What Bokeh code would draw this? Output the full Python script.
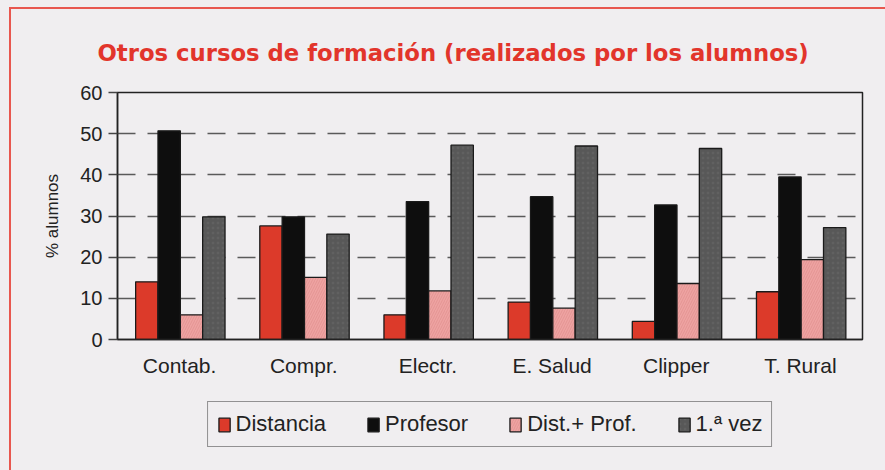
from bokeh.plotting import figure
from bokeh.layouts import column
from bokeh.models import ColumnDataSource, FactorRange, Legend, LegendItem, FixedTicker, InlineStyleSheet
from bokeh.transform import dodge
from bokeh.embed import file_html
from bokeh.resources import INLINE

categories = ["Contab.", "Compr.", "Electr.", "E. Salud", "Clipper", "T. Rural"]
distancia = [14, 27.6, 6, 9.1, 4.4, 11.6]
profesor = [50.7, 29.8, 33.5, 34.7, 32.7, 39.5]
dist_prof = [6, 15.1, 11.8, 7.6, 13.6, 19.4]
primera_vez = [29.8, 25.6, 47.2, 47, 46.4, 27.2]
series_names = ["Distancia", "Profesor", "Dist.+ Prof.", "1.ª vez"]
y_ticks = [0, 10, 20, 30, 40, 50, 60]

BG = "#f0eef0"
src = ColumnDataSource(dict(cat=categories, d=distancia, p=profesor, dp=dist_prof, v=primera_vez))

p = figure(x_range=FactorRange(*categories), y_range=(0, 60), width=885, height=390,
           output_backend="svg", toolbar_location=None,
           min_border_left=117, min_border_right=23, min_border_top=92, min_border_bottom=51)
p.background_fill_color = BG
p.border_fill_color = BG
p.outline_line_color = "#222222"
p.outline_line_width = 1.5
p.x_range.range_padding = 0

p.title.text = "Otros cursos de formación (realizados por los alumnos)"
p.title.text_font = "DejaVu Sans"
p.title.text_font_size = "22.75px"
p.title.text_font_style = "bold"
p.title.text_color = "#e2352b"
p.title.align = "left"
p.title.offset = -20
p.title.standoff = 53

w = 0.18
sh = 0.006
specs = [("d", -0.27 + sh, "#dc3a2a", None, None),
         ("p", -0.09 + sh, "#0e0e0e", None, None),
         ("dp", 0.09 + sh, "#eea3a2", "right_diagonal_line", "#d98584"),
         ("v", 0.27 + sh, "#585858", "dot", "#6a6a6a")]


def bars(fig):
    out = []
    for col, off, color, hatch, hcol in specs:
        kw = {}
        if hatch:
            kw = dict(hatch_pattern=hatch, hatch_color=hcol, hatch_alpha=0.5, hatch_scale=5, hatch_weight=1)
        out.append(fig.vbar(x=dodge("cat", off, range=fig.x_range), top=col, width=w, source=src,
                            fill_color=color, line_color="#1a1a1a", line_width=1.3, **kw))
    return out


bars(p)

p.yaxis.ticker = FixedTicker(ticks=y_ticks)
p.yaxis.axis_label = "% alumnos"
p.yaxis.axis_label_text_font = "Liberation Sans"
p.yaxis.axis_label_text_font_size = "17px"
p.yaxis.axis_label_text_font_style = "normal"
p.yaxis.axis_label_text_color = "#222222"
p.yaxis.axis_label_standoff = 15
p.yaxis.major_label_text_font = "Liberation Sans"
p.yaxis.major_label_text_font_size = "20px"
p.yaxis.major_label_text_color = "#222222"
p.yaxis.major_label_standoff = 6
p.yaxis.major_tick_out = 9
p.yaxis.major_tick_in = 0
p.yaxis.minor_tick_out = 0
p.yaxis.minor_tick_in = 0
p.yaxis.axis_line_color = "#222222"
p.yaxis.major_tick_line_color = "#444444"
p.yaxis.major_tick_line_width = 1.5
p.yaxis.axis_line_width = 1.5

p.xaxis.major_label_text_font = "Liberation Sans"
p.xaxis.major_label_text_font_size = "21px"
p.xaxis.major_label_text_color = "#222222"
p.xaxis.major_tick_line_color = None
p.xaxis.axis_line_color = "#222222"
p.xaxis.axis_line_width = 1.5
p.xaxis.major_label_standoff = 8

p.xgrid.grid_line_color = None
p.ygrid.ticker = FixedTicker(ticks=[10, 20, 30, 40, 50])
p.ygrid.grid_line_color = "#5a5a5a"
p.ygrid.grid_line_width = 1.6
p.ygrid.grid_line_dash = "18 12"

# legend strip below the chart; its small copy of the bars sits hidden behind the opaque legend box
lg = figure(width=885, height=80, x_range=FactorRange(*categories, range_padding=1.0), y_range=(-40, 80),
            output_backend="svg", toolbar_location=None, x_axis_type=None, y_axis_type=None,
            min_border_left=117, min_border_right=23, min_border_top=0, min_border_bottom=0)
lg.background_fill_color = BG
lg.border_fill_color = BG
lg.outline_line_color = None
lg.grid.grid_line_color = None
rs = bars(lg)

legend = Legend(items=[LegendItem(label=n, renderers=[r]) for n, r in zip(series_names, rs)],
                orientation="horizontal", location="top_center")
legend.label_text_font = "Liberation Sans"
legend.label_text_font_size = "22px"
legend.label_text_color = "#222222"
legend.glyph_width = 14
legend.glyph_height = 17
legend.label_height = 21
legend.label_standoff = 5
legend.spacing = 40
legend.padding = 9
legend.margin = 11
legend.border_line_color = "#333333"
legend.border_line_width = 1.5
legend.background_fill_color = BG
legend.background_fill_alpha = 1
lg.add_layout(legend, "center")

frame_css = InlineStyleSheet(css="""
:host { background: #f0eef0; }
:host::after { content: ""; position: absolute; left: 9px; top: 7px; right: 0; bottom: 0;
  border-top: 2px solid #e8574f; border-left: 2px solid #e8574f; pointer-events: none; }
""")
layout = column(p, lg, spacing=0, stylesheets=[frame_css])
open("out.html", "w").write(file_html(layout, INLINE))
